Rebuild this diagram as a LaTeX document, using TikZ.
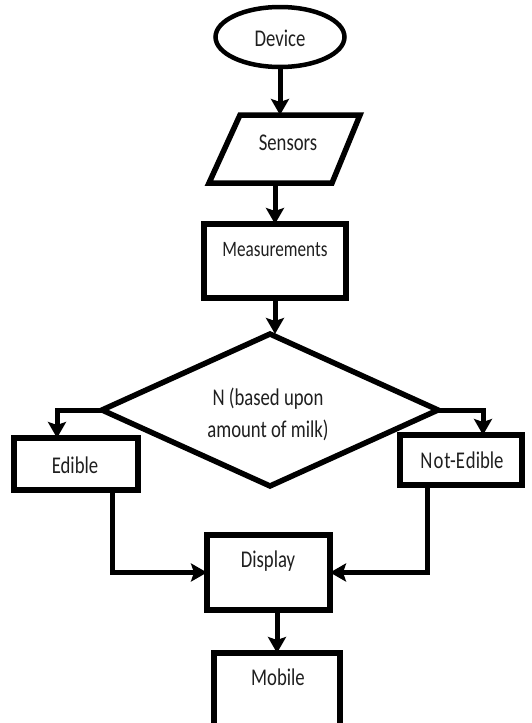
\documentclass[tikz,border=0pt]{standalone}
\usepackage{fontspec}
\setmainfont[FakeStretch=0.78]{Carlito}
\usetikzlibrary{shapes.geometric,arrows.meta,calc}
\begin{document}
\begin{tikzpicture}[x=1pt,y=-1pt,
  shapeline/.style={draw=black,line width=5.5pt,inner sep=0pt,outer sep=0pt},
  boxnode/.style={shapeline,rectangle},
  lbl/.style={font=\fontsize{24}{28}\selectfont,inner sep=0pt,anchor=center,text=black!88},
  flow/.style={line width=5pt,-{Stealth[length=16pt,width=18pt,inset=3pt]}},
  ]
\clip (0,0) rectangle (532,723);
\useasboundingbox (0,0) rectangle (532,723);
% nodes
\node[shapeline,ellipse,minimum width=129,minimum height=60,line width=4.5pt] (device) at (280,37) {};
\node[lbl] (deviceT) at (280,38) {Device};
\coordinate (sTL) at (240,115);
\coordinate (sTR) at (360,115);
\coordinate (sBR) at (332,183);
\coordinate (sBL) at (209,183);
\draw[line width=5.5pt,line join=miter] (sTL) -- (sTR) -- (sBR) -- (sBL) -- cycle;
\node[lbl] (sensors) at (288,143) {Sensors};
\node[boxnode,minimum width=142,minimum height=74] (meas) at (275,261) {};
\node[lbl,font=\fontsize{22}{26}\selectfont] (measT) at (275,250) {Measurements};
\node[shapeline,diamond,minimum width=336,minimum height=152] (dec) at (270,410) {};
\node[lbl,align=center,font=\fontsize{24}{32}\selectfont] (decT) at (268,414) {N (based upon\\amount of milk)};
\node[boxnode,minimum width=124,minimum height=52] (edible) at (76,464) {};
\node[lbl] (edibleT) at (75,465) {Edible};
\node[boxnode,minimum width=122,minimum height=50] (notedible) at (461,460) {};
\node[lbl] (notedibleT) at (462,460) {N\hspace{1pt}o\hspace{1pt}t-E\hspace{1pt}dible};
\node[boxnode,minimum width=123,minimum height=75] (display) at (268.5,572.5) {};
\node[lbl] (displayT) at (268,561) {Display};
\node[boxnode,minimum width=126,minimum height=75] (mobile) at (277,690.5) {};
\node[lbl] (mobileT) at (278,677) {Mobile};
% connectors
\draw[flow] (device.south) -- (device.south |- sTL);
\draw[flow] (sBL -| meas.north) -- (meas.north);
\draw[flow] (meas.south) -- (meas.south |- dec.north);
\draw[flow] (dec.west) -| ([xshift=-19]edible.north);
\draw[flow] (dec.east) -| ([xshift=22]notedible.north);
\draw[flow] ([xshift=36]edible.south) |- (display.west);
\draw[flow] ([xshift=-34]notedible.south) |- (display.east);
\draw[flow] (display.south -| mobile.north) -- (mobile.north);
\end{tikzpicture}
\end{document}
